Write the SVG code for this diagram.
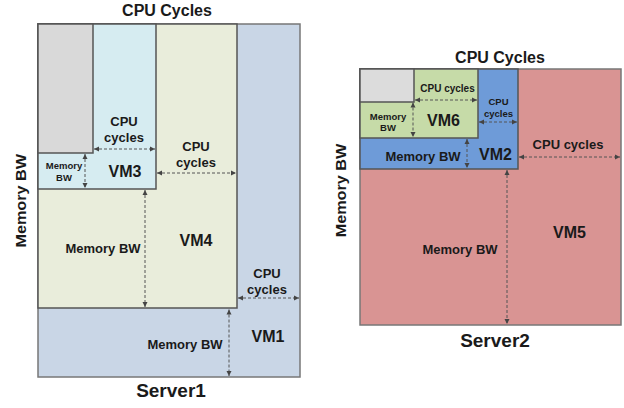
<svg xmlns="http://www.w3.org/2000/svg" width="624" height="408" viewBox="0 0 624 408">
<defs>
<marker id="ah" markerUnits="userSpaceOnUse" markerWidth="6" markerHeight="6" refX="5" refY="3" orient="auto-start-reverse">
<path d="M0,0.5 L5,3 L0,5.5 z" fill="#444"/>
</marker>
<style>
text{font-family:"Liberation Sans",Arial,sans-serif;font-weight:bold;fill:#1a1a1a;text-anchor:middle}
.box{stroke:#555;stroke-width:1.5}
.srv{stroke:#777;stroke-width:1.5}
.arr{stroke:#555;stroke-width:1;stroke-dasharray:3 2;fill:none;marker-start:url(#ah);marker-end:url(#ah)}
.t19{font-size:19px}.t16{font-size:16px}.t13{font-size:13px}.t10{font-size:10px}.t9{font-size:9.5px}
</style>
</defs>
<rect width="624" height="408" fill="#ffffff"/>

<g id="server1">
<g id="vm1"><rect class="srv" x="38" y="24" width="262" height="353" fill="#c9d6e6"/>
<text class="t16" x="268" y="342">VM1</text>
<text class="t13" x="267" y="277.5">CPU</text><text class="t13" x="267" y="293.5">cycles</text>
<text class="t13" x="185" y="348.5">Memory BW</text></g>
<g id="vm4"><rect class="box" x="38" y="24" width="199" height="284" fill="#e9eddb"/>
<text class="t16" x="196" y="246">VM4</text>
<text class="t13" x="196" y="151">CPU</text><text class="t13" x="196" y="166.5">cycles</text>
<text class="t13" x="103" y="252.5">Memory BW</text></g>
<g id="vm3"><rect class="box" x="38" y="24" width="118" height="165" fill="#d6ecf1"/>
<text class="t16" x="125" y="177">VM3</text>
<text class="t13" x="124" y="126">CPU</text><text class="t13" x="124" y="141.5">cycles</text>
<text class="t9" x="64" y="169">Memory</text><text class="t9" x="64" y="180.5">BW</text></g>
<g id="free1"><rect class="box" x="38" y="24" width="55" height="129" fill="#d9d9d9"/></g>
<text class="t16" x="167" y="16">CPU Cycles</text>
<text class="t19" x="171" y="397">Server1</text>
<text font-size="15" transform="translate(26,200.8) rotate(-90) scale(1.08,1)" x="0" y="0">Memory BW</text>
</g>

<g id="server2">
<g id="vm5"><rect class="srv" x="360" y="69" width="261" height="256" fill="#d99493"/>
<text class="t16" x="569.5" y="237.5">VM5</text>
<text class="t13" x="568" y="148.5">CPU cycles</text>
<text class="t13" x="460" y="253.5">Memory BW</text></g>
<g id="vm2"><rect class="box" x="360" y="69" width="158" height="100" fill="#6e9bd8"/>
<text class="t16" x="495.5" y="160">VM2</text>
<text class="t9" x="498.5" y="105">CPU</text><text class="t9" x="498.5" y="117">cycles</text>
<text class="t13" x="423" y="160.5">Memory BW</text></g>
<g id="vm6"><rect class="box" x="360" y="69" width="118" height="69" fill="#c6dba8"/>
<text class="t16" x="443.5" y="126">VM6</text>
<text class="t10" x="447.5" y="92">CPU cycles</text>
<text class="t9" x="388" y="119.5">Memory</text><text class="t9" x="388" y="130.5">BW</text></g>
<g id="free2"><rect class="box" x="360" y="69" width="54" height="33" fill="#dcdcdc"/></g>
<text class="t16" x="500" y="62.5">CPU Cycles</text>
<text class="t19" x="495" y="346.5">Server2</text>
<text font-size="15" transform="translate(346,190.5) rotate(-90) scale(1.08,1)" x="0" y="0">Memory BW</text>
</g>

<g id="connectors">
<line class="arr" x1="94" y1="149" x2="155" y2="149"/>
<line class="arr" x1="85" y1="154" x2="85" y2="188"/>
<line class="arr" x1="157" y1="173" x2="236" y2="173"/>
<line class="arr" x1="145" y1="190" x2="145" y2="307"/>
<line class="arr" x1="238" y1="298" x2="299" y2="298"/>
<line class="arr" x1="229" y1="309.5" x2="229" y2="376"/>
<line class="arr" x1="415" y1="100" x2="477" y2="100"/>
<line class="arr" x1="413" y1="102.5" x2="413" y2="137"/>
<line class="arr" x1="479" y1="122" x2="517" y2="122"/>
<line class="arr" x1="467" y1="139" x2="467" y2="168"/>
<line class="arr" x1="519" y1="157" x2="620" y2="157"/>
<line class="arr" x1="507" y1="170" x2="507" y2="324"/>
</g>
</svg>
